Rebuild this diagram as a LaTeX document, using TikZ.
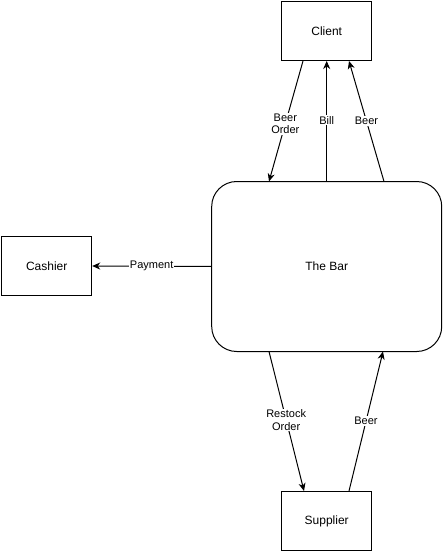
\documentclass[tikz,border=0pt]{standalone}
\usepackage{fontspec}
\setmainfont{Liberation Sans}
\usetikzlibrary{arrows.meta}
\begin{document}
\begin{tikzpicture}[x=1pt,y=-1pt,
  box/.style={draw,line width=1pt,minimum width=90pt,minimum height=59pt,inner sep=0pt,font=\fontsize{12}{14}\selectfont},
  lbl/.style={fill=white,inner sep=1pt,font=\fontsize{11}{12.5}\selectfont,align=center},
  flow/.style={line width=1pt,-{Stealth[length=8pt,width=7pt,inset=2.5pt]}}]
\useasboundingbox (0,0) rectangle (443,556);
\node[box] (client) at (326.7,31.5) {Client};
\node[box] (cashier) at (46.7,266) {Cashier};
\node[box] (supplier) at (326.7,521) {Supplier};
\node[box,rounded corners=25pt,minimum width=230pt,minimum height=170pt] (bar) at (326.7,266.5) {The Bar};
% client flows
\coordinate (c1) at (303,61);
\coordinate (b1) at (269,181.5);
\coordinate (c2) at (326.7,61);
\coordinate (b2) at (326.7,181.5);
\coordinate (c3) at (349,61);
\coordinate (b3) at (384,181.5);
\draw[flow] (c1) -- node[lbl,pos=0.52] {Beer\\Order} (b1);
\draw[flow] (b2) -- node[lbl,pos=0.51] {Bill} (c2);
\draw[flow] (b3) -- node[lbl,pos=0.5] {Beer} (c3);
% cashier
\draw[flow] (bar.west) -- node[lbl,pos=0.5] {Payment} (cashier.east);
% supplier flows
\coordinate (b4) at (269,351.5);
\coordinate (s4) at (304,491);
\coordinate (b5) at (383,351.5);
\coordinate (s5) at (349,491);
\draw[flow] (b4) -- node[lbl,pos=0.49] {Restock\\Order} (s4);
\draw[flow] (s5) -- node[lbl,pos=0.5] {Beer} (b5);
\end{tikzpicture}
\end{document}
